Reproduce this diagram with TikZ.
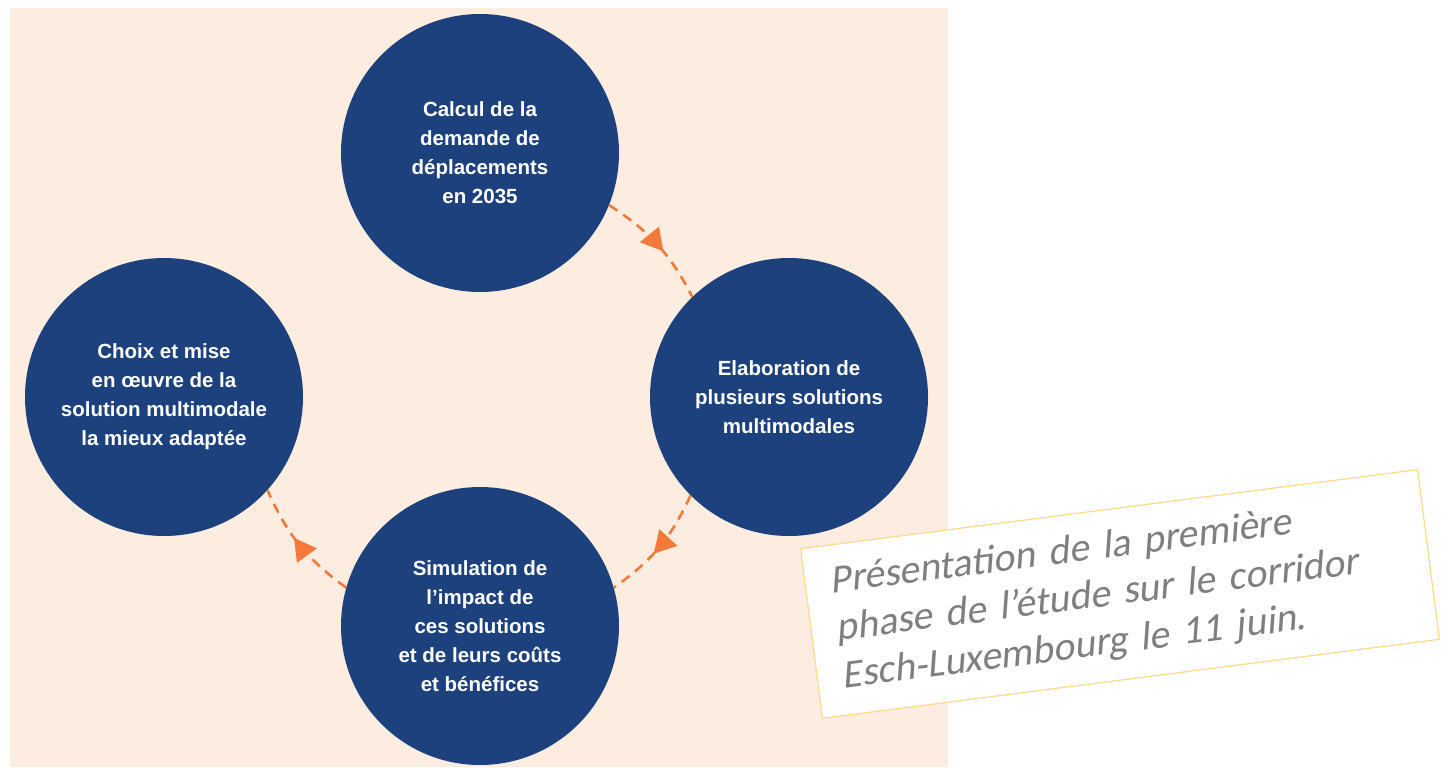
\documentclass[tikz,border=0pt]{standalone}
\usepackage{fontspec}
\setmainfont{Liberation Sans}
\newfontfamily\notefont{Carlito}[FakeSlant=0.2]
\usetikzlibrary{arrows.meta,decorations.markings}
\definecolor{bgbeige}{HTML}{FCEDE0}
\definecolor{navyblue}{HTML}{1C417D}
\definecolor{arrorange}{HTML}{F37A3A}
\definecolor{notegray}{HTML}{7F7F7F}
\definecolor{noteframe}{HTML}{FFD98C}
\begin{document}
\begin{tikzpicture}[x=1pt,y=-1pt,
    stage/.style={circle, fill=navyblue, minimum size=278pt, inner sep=0pt, text=white,
      align=center, font=\bfseries\fontsize{20.5}{29}\selectfont},
    flow/.style={arrorange, line width=2.6pt, dash pattern=on 10pt off 7pt,
      postaction={decorate}, decoration={markings,
        mark=at position 0.57 with {\arrow{Triangle[length=22pt,width=24pt]}}}}]
    \useasboundingbox (0,0) rectangle (1441,768);
    \fill[bgbeige] (10,8) rectangle (948,767);
    % the four stages
    \node[stage] (calc) at (480,153) {Calcul de la\\demande de\\déplacements\\en 2035};
    \node[stage] (elab) at (789,397) {Elaboration de\\plusieurs solutions\\multimodales};
    \node[stage] (simu) at (480,626) {Simulation de\\l’impact de\\ces solutions\\et de leurs coûts\\et bénéfices};
    \node[stage] (choix) at (164,397) {Choix et mise\\en œuvre de la\\solution multimodale\\la mieux adaptée};
    % dashed arrows
    \draw[flow] (calc.-22) to[bend left=15] (elab.134);
    \draw[flow] (elab.-135) to[bend left=15] (simu.16);
    \draw[flow] (simu.164) to[bend left=15] (choix.-42);
    % note
    \node[draw=noteframe, line width=1.2pt, fill=white, rotate=7.3, minimum width=622pt,
      minimum height=171pt, text width=572pt, align=left, text=notegray,
      font=\notefont\fontsize{40}{48}\selectfont] (note) at (1120,594)
      {Présentation de la première\\phase de l’étude sur le corridor\\Esch-Luxembourg le 11 juin.};
\end{tikzpicture}
\end{document}
